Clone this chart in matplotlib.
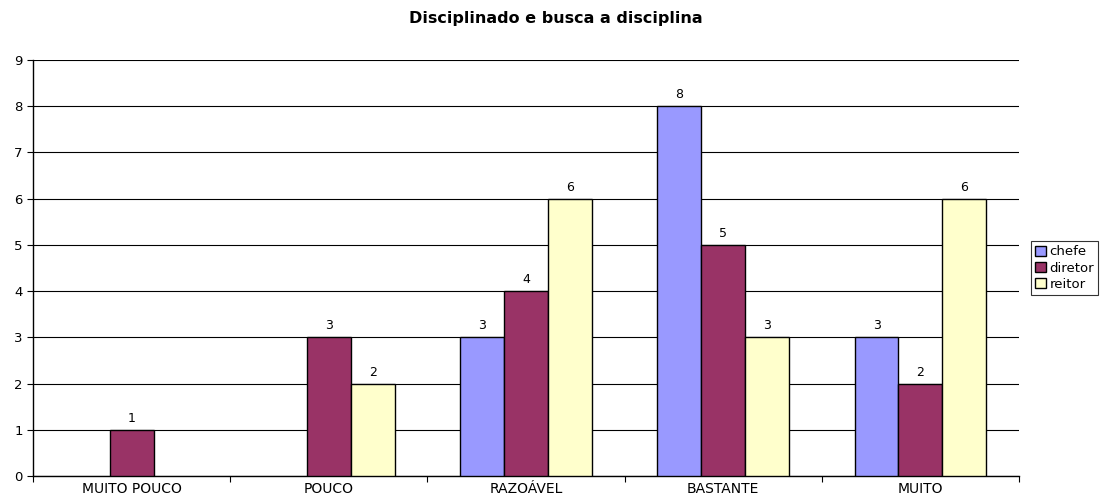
import matplotlib
matplotlib.use("Agg")
import matplotlib.pyplot as plt
import numpy as np

categories = ["MUITO POUCO", "POUCO", "RAZOÁVEL", "BASTANTE", "MUITO"]
series_names = ["chefe", "diretor", "reitor"]
chefe = [0, 0, 3, 8, 3]
diretor = [1, 3, 4, 5, 2]
reitor = [0, 2, 6, 3, 6]
colors = ["#9999ff", "#993366", "#ffffcc"]
title = "Disciplinado e busca a disciplina"

plt.rcParams["font.family"] = ["DejaVu Sans"]

fig = plt.figure(figsize=(11.04, 4.97), dpi=100)
ax = fig.add_axes([33 / 1104, 21 / 497, (1019 - 33) / 1104, (476 - 60) / 497])

x = np.arange(len(categories))
width = 1 / 4.5
for i, (vals, col, name) in enumerate(zip([chefe, diretor, reitor], colors, series_names)):
    pos = x + (i - 1) * width
    bars = ax.bar(pos, vals, width, color=col, edgecolor="black", linewidth=1.0,
                  label=name, zorder=3)
    for b, v in zip(bars, vals):
        if v > 0:
            ax.text(b.get_x() + b.get_width() / 2, v + 0.25, str(v),
                    ha="center", va="center", fontsize=9)
        else:
            # empty bars leave no outline on the baseline
            b.set_visible(False)

ax.set_xlim(-0.5, len(categories) - 0.5)
ax.set_ylim(0, 9)
ax.set_yticks(range(10))
ax.yaxis.grid(True, color="#000000", linewidth=0.8, zorder=0)
ax.set_axisbelow(True)

ax.set_xticks(x)
ax.set_xticklabels(categories, fontsize=10)
ax.tick_params(axis="x", length=0, pad=4)
ax.set_xticks(np.arange(-0.5, len(categories)), minor=True)
ax.tick_params(axis="x", which="minor", length=4, width=0.8)
ax.tick_params(axis="y", labelsize=9.5, length=4, width=0.8)

for s in ["top", "right"]:
    ax.spines[s].set_visible(False)
ax.spines["left"].set_linewidth(1.0)
ax.spines["bottom"].set_linewidth(1.0)

fig.text(556 / 1104, 1 - 18 / 497, title, ha="center", va="center",
         fontsize=11.5, fontweight="bold")

handles = [plt.Rectangle((0, 0), 1, 1, facecolor=c, edgecolor="black", linewidth=1.0)
           for c in colors]
leg = fig.legend(handles, series_names, loc="center left",
                 bbox_to_anchor=(1031 / 1104, 1 - 268 / 497),
                 fontsize=9.5, frameon=True, fancybox=False, edgecolor="black",
                 handlelength=0.8, handleheight=0.8, handletextpad=0.3,
                 borderpad=0.3, labelspacing=0.25, borderaxespad=0)
leg.get_frame().set_linewidth(0.8)

fig.savefig("out.png", dpi=100)
